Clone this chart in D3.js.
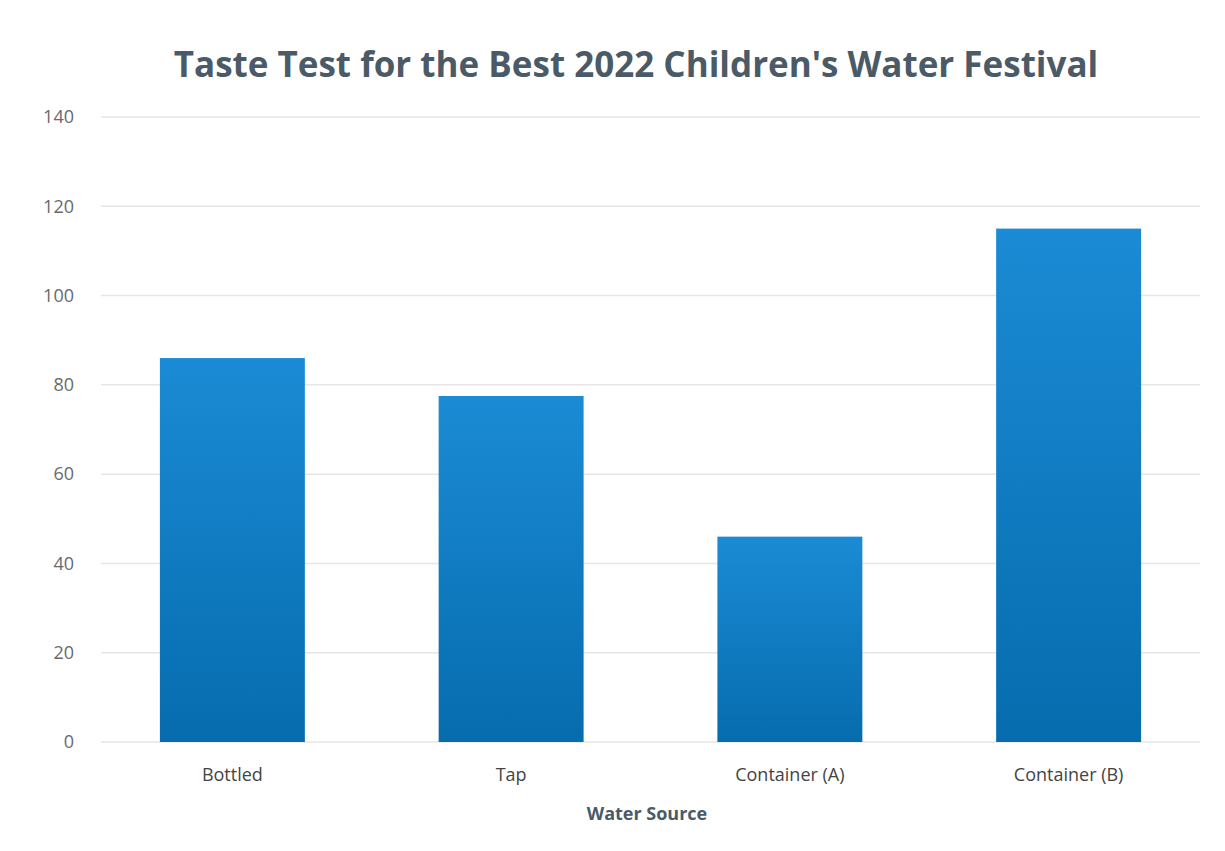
<!DOCTYPE html>
<html>
<head>
<meta charset="utf-8">
<script src="https://cdn.jsdelivr.net/npm/d3@7"></script>
<style>
  body { margin: 0; background: #fff; }
  svg { display: block; overflow: visible; }
</style>
</head>
<body>
<div id="chart"></div>
<script>
// chart data
var categories = ['Bottled', 'Tap', 'Container (A)', 'Container (B)'];
var votes = [86, 77.5, 46, 115];
var yTicks = [0, 20, 40, 60, 80, 100, 120, 140];

var width = 1225, height = 851;
var margin = {top: 117, right: 17, bottom: 109, left: 93};
var innerWidth = width - margin.left - margin.right,
    innerHeight = height - margin.top - margin.bottom;

var svg = d3.select('#chart').append('svg')
    .attr('width', width)
    .attr('height', height);

// vertical gradient on the bars, lighter at the top
var grad = svg.append('defs').append('linearGradient')
    .attr('id', 'barGrad')
    .attr('x1', 0).attr('y1', 0).attr('x2', 0).attr('y2', 1);
grad.append('stop').attr('offset', '0%').attr('stop-color', '#1b8bd5');
grad.append('stop').attr('offset', '100%').attr('stop-color', '#066cae');

var g = svg.append('g').attr('transform', 'translate(' + margin.left + ',' + margin.top + ')');

var x = d3.scaleBand()
    .domain(categories)
    .range([0, innerWidth])
    .paddingInner(0.48)
    .paddingOuter(0.24);

var y = d3.scaleLinear()
    .domain([0, 140])
    .range([innerHeight, 0]);

// gridlines
g.append('g')
    .selectAll('line')
    .data(yTicks)
    .enter().append('line')
    .attr('x1', 8)
    .attr('x2', innerWidth - 8)
    .attr('y1', d => y(d))
    .attr('y2', d => y(d))
    .attr('stroke', '#e6e6e6')
    .attr('stroke-width', 1.5);

// y axis labels
var yAxis = g.append('g')
    .call(d3.axisLeft(y).tickValues(yTicks).tickSize(0).tickPadding(19));
yAxis.select('.domain').remove();
yAxis.selectAll('text')
    .attr('font-family', 'Open Sans, sans-serif')
    .attr('font-size', 18)
    .attr('fill', '#6a6a6a');

// bars
g.append('g')
    .selectAll('rect')
    .data(votes)
    .enter().append('rect')
    .attr('x', (d, i) => x(categories[i]))
    .attr('y', d => y(d))
    .attr('width', x.bandwidth())
    .attr('height', d => innerHeight - y(d))
    .attr('fill', 'url(#barGrad)');

// x axis labels
var xAxis = g.append('g')
    .attr('transform', 'translate(0,' + innerHeight + ')')
    .call(d3.axisBottom(x).tickSize(0).tickPadding(26));
xAxis.select('.domain').remove();
xAxis.selectAll('text')
    .attr('font-family', 'Open Sans, sans-serif')
    .attr('font-size', 18)
    .attr('fill', '#444');

// axis title
svg.append('text')
    .attr('x', 647)
    .attr('y', 820)
    .attr('text-anchor', 'middle')
    .attr('font-family', 'Open Sans, sans-serif')
    .attr('font-weight', 'bold')
    .attr('font-size', 18)
    .attr('fill', '#4b5a67')
    .text('Water Source');

// chart title
svg.append('text')
    .attr('x', 636)
    .attr('y', 77)
    .attr('text-anchor', 'middle')
    .attr('font-family', 'Open Sans, sans-serif')
    .attr('font-weight', 'bold')
    .attr('font-size', 35)
    .attr('fill', '#4b5a67')
    .text("Taste Test for the Best 2022 Children's Water Festival");
</script>
</body>
</html>
